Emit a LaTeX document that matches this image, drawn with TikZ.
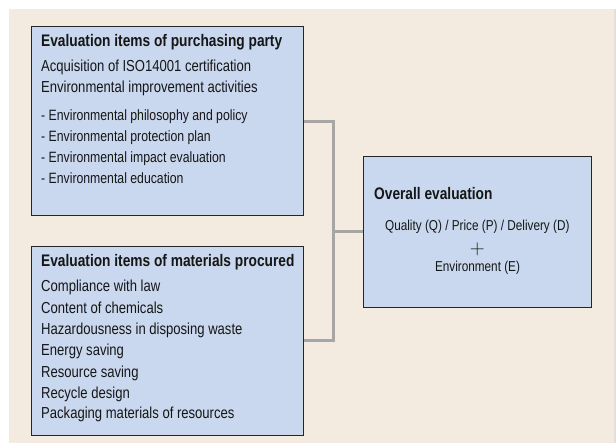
\documentclass[tikz,border=0pt]{standalone}
\usepackage{fontspec}
\setmainfont{Liberation Sans}[FakeStretch=0.82]
\definecolor{beige}{HTML}{F4EBE0}
\definecolor{boxblue}{HTML}{C9D8EE}
\definecolor{linkgray}{HTML}{A6A6A6}
\definecolor{edgegray}{HTML}{E2E0DF}
\definecolor{textdark}{HTML}{161616}
\begin{document}
\begin{tikzpicture}[x=1bp,y=-1bp,
  panel/.style={draw=black!85, line width=1bp, fill=boxblue, anchor=north west, inner sep=0pt},
  head/.style={anchor=mid west, inner sep=0pt, text=textdark, font=\fontsize{16.8}{19}\selectfont\bfseries},
  item/.style={anchor=mid west, inner sep=0pt, text=textdark, font=\fontsize{16}{19}\selectfont},
  subitem/.style={anchor=mid west, inner sep=0pt, text=textdark, font=\fontsize{15}{18}\selectfont},
  summary/.style={anchor=mid, inner sep=0pt, text=textdark, font=\fontsize{14.4}{17}\selectfont},
  link/.style={draw=linkgray, line width=3bp, line join=miter}]
\useasboundingbox (0,0) rectangle (616,443);
% page backdrop
\fill[white] (0,0) rectangle (616,443);
\fill[beige] (9,9) rectangle (614,443);
\fill[edgegray] (614,9) rectangle (616,443);

% panels
\node[panel, minimum width=272bp, minimum height=189bp] (buyer) at (31,26) {};
\node[panel, minimum width=272bp, minimum height=189bp] (material) at (31,246) {};
\node[panel, minimum width=228bp, minimum height=151bp] (overall) at (363,156) {};

% purchasing party items
\node[head] (b0) at (41,43.5) {Evaluation items of purchasing party};
\node[item] (b1) at (41,69) {Acquisition of ISO14001 certification};
\node[item] (b2) at (41,90) {Environmental improvement activities};
\node[subitem] (b3) at (41,117.5) {- Environmental philosophy and policy};
\node[subitem] (b4) at (41,138.5) {- Environmental protection plan};
\node[subitem] (b5) at (41,159.5) {- Environmental impact evaluation};
\node[subitem] (b6) at (41,180.5) {- Environmental education};

% materials items
\node[head] (m0) at (41,263.5) {Evaluation items of materials procured};
\node[item] (m1) at (41,289) {Compliance with law};
\node[item] (m2) at (41,310.5) {Content of chemicals};
\node[item] (m3) at (41,331.5) {Hazardousness in disposing waste};
\node[item] (m4) at (41,353) {Energy saving};
\node[item] (m5) at (41,374.5) {Resource saving};
\node[item] (m6) at (41,395.5) {Recycle design};
\node[item] (m7) at (41,416) {Packaging materials of resources};

% overall evaluation
\node[head] (o0) at (374,197) {Overall evaluation};
\node[summary] (o1) at (477.3,228) {Quality (Q) / Price (P) / Delivery (D)};
\node[anchor=center, inner sep=0pt, text=textdark, font=\fontsize{22}{24}\selectfont] (o2) at (477.3,249.5) {$+$};
\node[summary] (o3) at (477.5,269) {Environment (E)};

% connectors
\coordinate (jtop) at (333,122);
\coordinate (jbot) at (333,340);
\coordinate (jmid) at (333,232);
\draw[link] (buyer.east |- jtop) -- (jtop) -- (jbot) -- (material.east |- jbot);
\draw[link] (jmid) -- (overall.west |- jmid);
\end{tikzpicture}
\end{document}
